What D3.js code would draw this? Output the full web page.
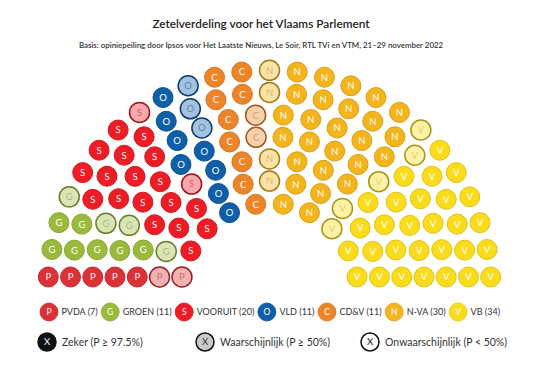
<!DOCTYPE html>
<html>
<head>
<meta charset="utf-8">
<script src="https://cdn.jsdelivr.net/npm/d3@7"></script>
<style>
  body { margin: 0; background: #fff; }
  svg { display: block; font-family: Lato, "Open Sans", sans-serif; }
</style>
</head>
<body>
<svg id="chart" width="540" height="371"></svg>
<script>
// parties, left to right in the hemicycle
var parties = ["PVDA", "GROEN", "VOORUIT", "VLD", "CD&V", "N-VA", "VB"];
var letters = ["P", "G", "S", "O", "C", "N", "V"];
var seatCounts = [7, 11, 20, 11, 11, 30, 34];
// of those, seats that are only "waarschijnlijk"
var likelyCounts = [2, 4, 2, 3, 2, 4, 5];
var colors = ["#dc3137", "#9bba3c", "#ee1c25", "#0f5ea8", "#ee8428", "#f4b41b", "#fbdc1a"];
// seats per row, inner row first
var rowSeats = [10, 13, 15, 18, 20, 23, 25];

var statusLabels = ["Zeker (P \u2265 97.5%)", "Waarschijnlijk (P \u2265 50%)", "Onwaarschijnlijk (P < 50%)"];

var svg = d3.select("#chart");

// title
svg.append("text")
  .attr("x", 261).attr("y", 28)
  .attr("text-anchor", "middle")
  .attr("font-size", 11.8).attr("font-weight", 600)
  .attr("fill", "#222")
  .text("Zetelverdeling voor het Vlaams Parlement");

svg.append("text")
  .attr("x", 261).attr("y", 48)
  .attr("text-anchor", "middle")
  .attr("font-size", 7.9).attr("font-weight", 600)
  .attr("fill", "#333")
  .text("Basis: opiniepeiling door Ipsos voor Het Laatste Nieuws, Le Soir, RTL TVi en VTM, 21\u201329 november 2022");

// hemicycle geometry
var cx = 269.5, cy = 292, base = 15, seatR = 10;
var rScale = d3.scaleLinear().domain([0, rowSeats.length - 1]).range([88.8, 221.7]);
var color = d3.scaleOrdinal().domain(parties).range(colors);

var seats = [];
rowSeats.forEach(function(n, i) {
  var r = rScale(i);
  var a0 = Math.asin(base / r);
  var aScale = d3.scaleLinear().domain([0, n - 1]).range([Math.PI - a0, a0]);
  d3.range(n).forEach(function(j) {
    seats.push({ row: i, r: r, a: aScale(j) });
  });
});

// left to right, outer row first on ties
seats.sort(function(a, b) { return (b.a - a.a) || (b.r - a.r); });

var k = 0;
parties.forEach(function(p, pi) {
  var block = seats.slice(k, k + seatCounts[pi]);
  k += seatCounts[pi];
  block.forEach(function(s) { s.party = p; s.letter = letters[pi]; s.likely = false; });
  // uncertain seats are the ones nearest the middle
  block.slice()
    .sort(function(a, b) { return Math.abs(a.a - Math.PI / 2) - Math.abs(b.a - Math.PI / 2); })
    .slice(0, likelyCounts[pi])
    .forEach(function(s) { s.likely = true; });
});

function seatFill(c, likely) { return likely ? d3.interpolateRgb(c, "#fff")(0.62) : c; }
function seatStroke(c, likely) { return likely ? d3.color(c).darker(1.1) : d3.color(c).darker(0.35); }

var g = svg.append("g")
  .selectAll("g")
  .data(seats)
  .enter()
  .append("g")
  .attr("transform", function(d) {
    return "translate(" + (cx + d.r * Math.cos(d.a)) + "," + (cy - d.r * Math.sin(d.a)) + ")";
  });

g.append("circle")
  .attr("r", seatR)
  .attr("fill", function(d) { return seatFill(color(d.party), d.likely); })
  .attr("stroke", function(d) { return seatStroke(color(d.party), d.likely); })
  .attr("stroke-width", function(d) { return d.likely ? 1.5 : 1; });

g.append("text")
  .attr("text-anchor", "middle")
  .attr("dy", "0.36em")
  .attr("font-size", 9.5)
  .attr("fill", function(d) { return d.likely ? d3.color(color(d.party)).darker(0.6) : "#fff"; })
  .attr("fill-opacity", function(d) { return d.likely ? 0.55 : 1; })
  .text(function(d) { return d.letter; });

// party legend
var legR = 9, lx = 40;
var leg = svg.append("g").attr("transform", "translate(0,312)");
parties.forEach(function(p, pi) {
  var item = leg.append("g").attr("transform", "translate(" + lx + ",0)");
  item.append("circle")
    .attr("cx", legR).attr("r", legR)
    .attr("fill", colors[pi])
    .attr("stroke", d3.color(colors[pi]).darker(0.3))
    .attr("stroke-width", 0.8);
  item.append("text")
    .attr("x", legR).attr("dy", "0.36em")
    .attr("text-anchor", "middle")
    .attr("font-size", 8.5).attr("fill", "#fff")
    .text(letters[pi]);
  var t = item.append("text")
    .attr("x", 2 * legR + 3.5).attr("dy", "0.36em")
    .attr("font-size", 9).attr("fill", "#333")
    .text(p + " (" + seatCounts[pi] + ")");
  lx += 2 * legR + 3.5 + t.node().getComputedTextLength() + 3.5;
});

// certainty legend
var statusX = [38, 196, 361];
var statusFill = ["#111", "#c9c9c9", "#fff"];
var statusText = ["#fff", "#333", "#111"];
var leg2 = svg.append("g").attr("transform", "translate(0,342)");
statusLabels.forEach(function(s, i) {
  var item = leg2.append("g").attr("transform", "translate(" + statusX[i] + ",0)");
  item.append("circle")
    .attr("cx", 9).attr("r", 9)
    .attr("fill", statusFill[i])
    .attr("stroke", "#111")
    .attr("stroke-width", 1.5);
  item.append("text")
    .attr("x", 9).attr("dy", "0.36em")
    .attr("text-anchor", "middle")
    .attr("font-size", 9.5).attr("fill", statusText[i])
    .text("X");
  item.append("text")
    .attr("x", 24).attr("dy", "0.36em")
    .attr("font-size", 10.5).attr("fill", "#333")
    .text(s);
});
</script>
</body>
</html>
